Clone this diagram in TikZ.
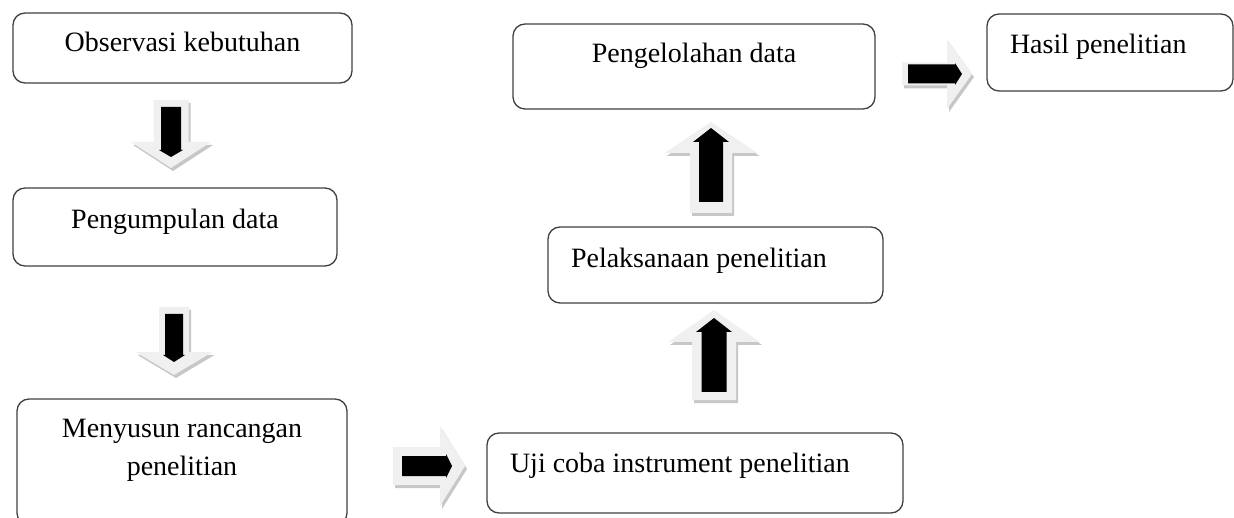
\documentclass[tikz,border=0pt]{standalone}
\usepackage{fontspec}
\setmainfont{Liberation Serif}
\begin{document}
\begin{tikzpicture}[x=1pt,y=-1pt]
\tikzstyle{box}=[draw=black!75,line width=1.3pt,rounded corners=12pt,font=\fontsize{28}{38}\selectfont,inner sep=4pt]
\tikzstyle{lbox}=[box,align=flush left]
\tikzstyle{arrowfill}=[fill=black!6]
\tikzstyle{arrowshadow}=[fill=black!22]
\tikzstyle{arrowoffset}=[]
\tikzset{
  pics/blkarrow/.style args={#1/#2/#3/#4/#5/#6/#7/#8/#9}{code={
    \fill[arrowshadow,arrowoffset] (0,-#2) -- (#1-#4,-#2) -- (#1-#4,-#3) -- (#1,0) -- (#1-#4,#3) -- (#1-#4,#2) -- (0,#2) -- cycle;
    \fill[arrowfill] (0,-#2) -- (#1-#4,-#2) -- (#1-#4,-#3) -- (#1,0) -- (#1-#4,#3) -- (#1-#4,#2) -- (0,#2) -- cycle;
    \fill[black] (#5,-#7) -- (#5+#6-#9,-#7) -- (#5+#6-#9,-#8) -- (#5+#6,0) -- (#5+#6-#9,#8) -- (#5+#6-#9,#7) -- (#5,#7) -- cycle;
  }}
}
\useasboundingbox (0,0) rectangle (1234,518);
\clip (0,0) rectangle (1234,518);
\node[box,minimum width=339pt,minimum height=70pt,text depth=12pt] (obs) at (182.5,48) {Observasi kebutuhan};
\node[box,minimum width=324pt,minimum height=78pt,text depth=17pt] (kumpul) at (175,227) {Pengumpulan data};
\node[box,align=center,minimum width=330pt,minimum height=126pt,text depth=29pt] (rancang) at (182,462) {Menyusun rancangan\\penelitian};
\node[lbox,text width=370pt,minimum width=416pt,minimum height=80pt,text depth=21pt] (uji) at (695,473) {Uji coba instrument penelitian};
\node[lbox,text width=289pt,minimum width=335pt,minimum height=76pt,text depth=15pt] (laksana) at (715.5,265) {Pelaksanaan penelitian};
\node[box,minimum width=362pt,minimum height=85pt,text depth=28pt] (olah) at (694,66.5) {Pengelolahan data};
\node[lbox,text width=200pt,minimum width=246pt,minimum height=77pt,text depth=18pt] (hasil) at (1110,52.5) {Hasil penelitian};
\coordinate (a1) at (171,100);
\coordinate (a2) at (174,307);
\coordinate (a3) at (393,466);
\coordinate (a4) at (711,213);
\coordinate (a5) at (714,400);
\coordinate (a6) at (902,74);
\pic[rotate=-90,arrowoffset/.style={shift={(3,-2)}}] at (a1) {blkarrow=68/17.5/40/26/7/50/10/12/7};
\pic[rotate=-90,arrowoffset/.style={shift={(3,-2)}}] at (a2) {blkarrow=68/15/38.5/23/7/48/9/11/7};
\pic[arrowoffset/.style={shift={(2,3)}}] at (a3) {blkarrow=72/19/40/25/9/50/10/12/6};
\pic[rotate=90,arrowoffset/.style={shift={(-3,2)}}] at (a4) {blkarrow=91/21/46.5/31/11/74/12/18/14};
\pic[rotate=90,arrowoffset/.style={shift={(-3,2)}}] at (a5) {blkarrow=90/22/46/32/8/74/12.5/18/14};
\pic[arrowoffset/.style={shift={(2,3)}}] at (a6) {blkarrow=70/11.5/35/25/6/54/9.5/11/7};
\end{tikzpicture}
\end{document}
